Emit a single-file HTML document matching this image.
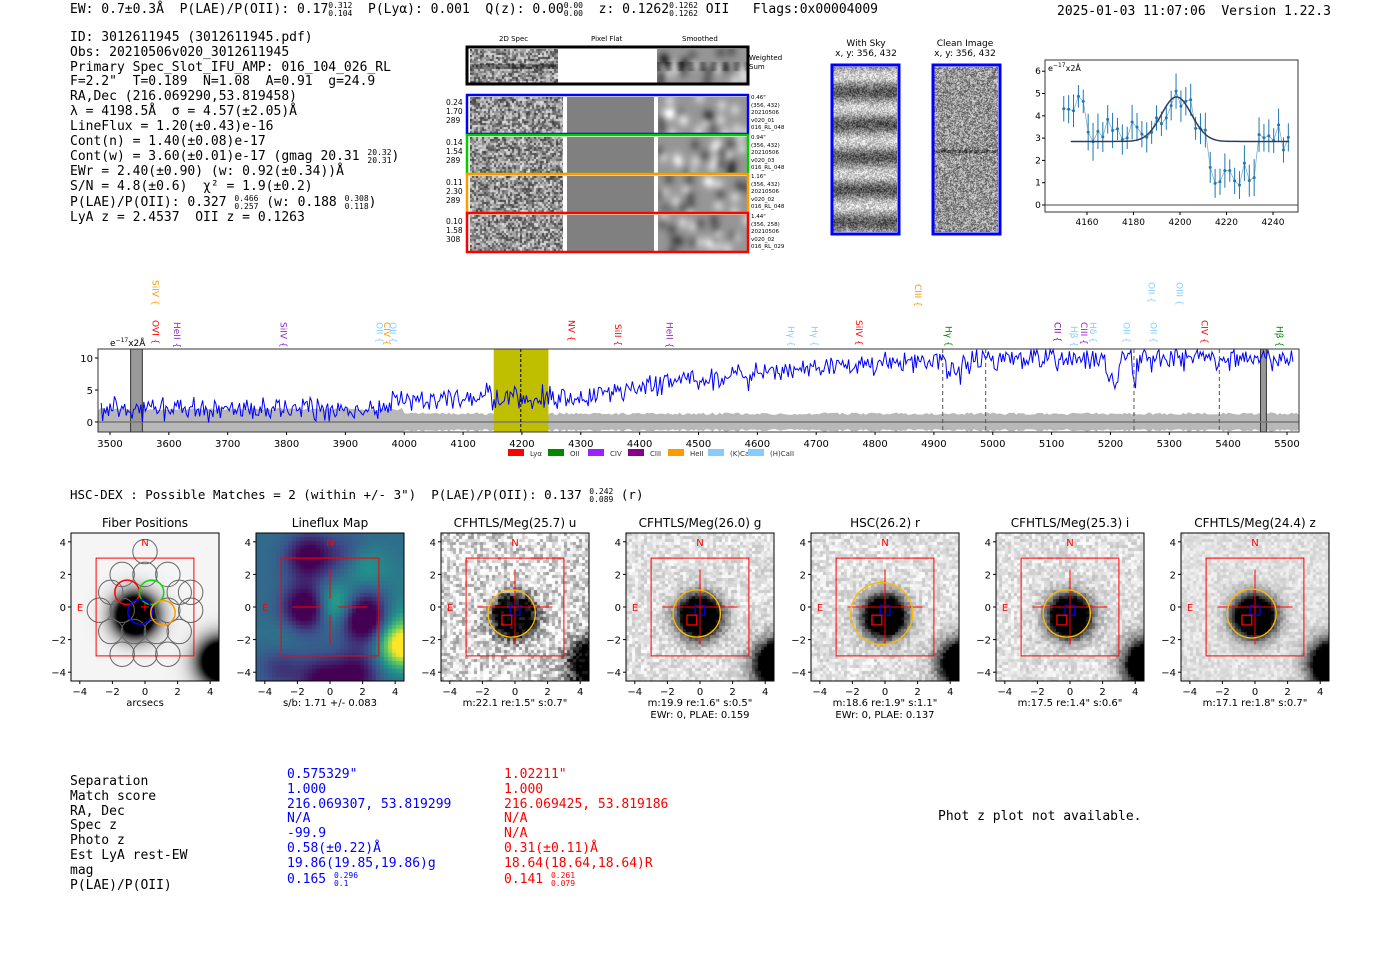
<!DOCTYPE html>
<html><head><meta charset="utf-8">
<style>
body{margin:0;background:#fff;width:1400px;height:953px;overflow:hidden;position:relative;font-family:"DejaVu Sans","Liberation Sans",sans-serif;}
.t{position:absolute;white-space:nowrap;}
.m{font-family:"DejaVu Sans Mono","Liberation Mono",monospace;font-size:13px;line-height:14.8px;white-space:pre;}
.f{font-size:8px;display:inline-block;line-height:8px;vertical-align:-3px;white-space:pre}
canvas{position:absolute}
</style></head><body>
<div id="cv"></div>
<div class="t m" style="left:70px;top:2px">EW: 0.7±0.3Å  P(LAE)/P(OII): 0.17<span class="f">0.312
0.104</span>  P(Lyα): 0.001  Q(z): 0.00<span class="f">0.00
0.00</span>  z: 0.1262<span class="f">0.1262
0.1262</span> OII   Flags:0x00004009</div>
<div class="t m" style="left:1057px;top:5px">2025-01-03 11:07:06  Version 1.22.3</div>
<div class="t m" style="left:70px;top:31px">ID: 3012611945 (3012611945.pdf)
Obs: 20210506v020_3012611945
Primary Spec_Slot_IFU_AMP: 016_104_026_RL
F=2.2"  T=0.189  N=1.08  A=0.91  g=24.9
RA,Dec (216.069290,53.819458)
λ = 4198.5Å  σ = 4.57(±2.05)Å
LineFlux = 1.20(±0.43)e-16
Cont(n) = 1.40(±0.08)e-17
Cont(w) = 3.60(±0.01)e-17 (gmag 20.31 <span class="f">20.32
20.31</span>)
EWr = 2.40(±0.90) (w: 0.92(±0.34))Å
S/N = 4.8(±0.6)  χ² = 1.9(±0.2)
P(LAE)/P(OII): 0.327 <span class="f">0.466
0.257</span> (w: 0.188 <span class="f">0.308
0.118</span>)
LyA z = 2.4537  OII z = 0.1263</div>

<div class="t" style="left:499px;top:35px;font-size:7px">2D Spec</div>
<div class="t" style="left:591px;top:35px;font-size:7px">Pixel Flat</div>
<div class="t" style="left:682px;top:35px;font-size:7px">Smoothed</div>
<div class="t" style="left:749px;top:54px;font-size:7px;line-height:9px">Weighted<br>Sum</div>
<div class="t" style="left:446px;top:98px;font-size:7.5px;line-height:9px">0.24<br>1.70<br>289</div>
<div class="t" style="left:446px;top:138px;font-size:7.5px;line-height:9px">0.14<br>1.54<br>289</div>
<div class="t" style="left:446px;top:178px;font-size:7.5px;line-height:9px">0.11<br>2.30<br>289</div>
<div class="t" style="left:446px;top:217px;font-size:7.5px;line-height:9px">0.10<br>1.58<br>308</div>
<div class="t" style="left:751px;top:95px;font-size:5.5px;line-height:7.5px">0.46"<br>(356, 432)<br>20210506<br>v020_01<br>016_RL_048</div>
<div class="t" style="left:751px;top:135px;font-size:5.5px;line-height:7.5px">0.94"<br>(356, 432)<br>20210506<br>v020_03<br>016_RL_048</div>
<div class="t" style="left:751px;top:174px;font-size:5.5px;line-height:7.5px">1.16"<br>(356, 432)<br>20210506<br>v020_02<br>016_RL_048</div>
<div class="t" style="left:751px;top:214px;font-size:5.5px;line-height:7.5px">1.44"<br>(356, 258)<br>20210506<br>v020_02<br>016_RL_029</div>
<div class="t" style="left:831px;top:39px;font-size:9px;line-height:10px;text-align:center;width:70px">With Sky<br>x, y: 356, 432</div>
<div class="t" style="left:930px;top:39px;font-size:9px;line-height:10px;text-align:center;width:70px">Clean Image<br>x, y: 356, 432</div>

<div class="t" style="left:70px;top:487px;font-size:12.5px;font-family:'DejaVu Sans Mono','Liberation Mono',monospace;white-space:pre">HSC-DEX : Possible Matches = 2 (within +/- 3")  P(LAE)/P(OII): 0.137 <span class="f">0.242
0.089</span> (r)</div>

<div class="t m" style="left:70px;top:775px">Separation
Match score
RA, Dec
Spec z
Photo z
Est LyA rest-EW
mag
P(LAE)/P(OII)</div>
<div class="t m" style="left:287px;top:768px;color:#00f">0.575329"
1.000
216.069307, 53.819299
N/A
-99.9
0.58(±0.22)Å
19.86(19.85,19.86)g
0.165 <span class="f">0.296
0.1</span></div>
<div class="t m" style="left:504px;top:768px;color:#f00">1.02211"
1.000
216.069425, 53.819186
N/A
N/A
0.31(±0.11)Å
18.64(18.64,18.64)R
0.141 <span class="f">0.261
0.079</span></div>
<div class="t m" style="left:938px;top:810px">Phot z plot not available.</div>

<svg id="s" width="1400" height="953" style="position:absolute;left:0;top:0"></svg>
<script>
let seed=7;function R(){seed=(seed*16807)%2147483647;return seed/2147483647;}
function G(){return (R()+R()+R()-1.5)*1.4;}
const cv=document.getElementById('cv');
function canv(x,y,w,h,f){const c=document.createElement('canvas');c.width=w;c.height=h;c.style.left=x+'px';c.style.top=y+'px';cv.appendChild(c);const g=c.getContext('2d');const im=g.createImageData(w,h);for(let j=0;j<h;j++)for(let i=0;i<w;i++){const v=f(i,j,w,h);const k=(j*w+i)*4;const a=Array.isArray(v)?v:[v,v,v];im.data[k]=a[0];im.data[k+1]=a[1];im.data[k+2]=a[2];im.data[k+3]=255;}g.putImageData(im,0,0);}
function cl(v){return Math.max(0,Math.min(255,v));}
function noiseBlock(x,y,w,h,b,band){const cells=[];const cw=Math.ceil(w/b),ch=Math.ceil(h/b);for(let i=0;i<cw*ch;i++)cells.push(R());canv(x,y,w,h,(i,j)=>{let v=cells[Math.floor(j/b)*cw+Math.floor(i/b)];v=60+v*170;if(band&&Math.abs(j-h/2)<3)v*=0.6;return cl(v);});}
function smoothBlock(x,y,w,h,dark){const n=[];for(let i=0;i<22;i++)n.push([R()*w,R()*h,R()>0.5?1:-1]);canv(x,y,w,h,(i,j)=>{let v=150;for(const p of n){const d=((i-p[0])**2)/8+((j-p[1])**2)/10;v+=p[2]*45*Math.exp(-d/4);}if(dark&&Math.abs(j-h/2)<5)v-=50*Math.cos((i/w)*25)**2;return cl(v);});}
noiseBlock(470,49,88,34,2,true);smoothBlock(657,49,90,34,true);
const rows=[[95,'#00f'],[135,'#0c0'],[174,'#f90'],[213,'#f00']];
for(const r of rows){noiseBlock(470,r[0]+2,93,36,2,false);canv(567,r[0]+2,87,36,()=>128);smoothBlock(658,r[0]+2,89,36,false);}
canv(833,67,64,165,(i,j)=>cl(150+60*Math.sin(j/5.2)+(R()-0.5)*120));
canv(934,67,64,165,(i,j)=>cl(150+(R()-0.5)*170-(Math.abs(j-84)<2?60:0)));
const px=[71,256,441,626,811,996,1181],py=533,W=148;
function star(i,j,cx,cy,r){return Math.exp(-(((i-cx)**2+(j-cy)**2)/(r*r)));}
canv(px[0],py,W,W,(i,j)=>{let v=245-255*Math.min(1,2.2*star(i,j,64,82,20))-255*Math.min(1,2*star(i,j,150,128,22));return cl(v);});
function vir(t){t=Math.max(0,Math.min(1,t));const s=[[68,1,84],[59,82,139],[33,145,140],[94,201,98],[253,231,37]];const k=t*4,a=Math.floor(Math.min(k,3.999)),f=k-a;return [0,1,2].map(c=>s[a][c]+(s[a+1][c]-s[a][c])*f);}
const blobs=[];for(let i=0;i<14;i++)blobs.push([R()*W,R()*W,(R()-0.5)*0.8]);blobs.push([74,70,0.4],[145,110,0.8],[105,85,-0.5],[50,20,-0.4]);
canv(px[1],py,W,W,(i,j)=>{const a=Math.floor(i/4)*4,b=Math.floor(j/4)*4;let v=0.35;for(const bb of blobs)v+=bb[2]*Math.exp(-((a-bb[0])**2+(b-bb[1])**2)/500);return vir(v);});
for(let k=2;k<7;k++){const nz=[150,60,60,60,40][k-2];const cells={};canv(px[k],py,W,W,(i,j)=>{const a=Math.floor(i/3),b=Math.floor(j/3);const key=a*100+b;if(cells[key]===undefined)cells[key]=R();let v=225-(cells[key]-0.5)*nz-255*Math.min(1,2.2*star(a*3,b*3,72,82,19))-255*Math.min(1,2.2*star(a*3,b*3,152,130,22));return cl(v);});}
const S=document.getElementById('s');let h='';
function L(x1,y1,x2,y2,c,w,d){h+=`<line x1="${x1}" y1="${y1}" x2="${x2}" y2="${y2}" stroke="${c}" stroke-width="${w||1}" ${d?'stroke-dasharray="'+d+'"':''}/>`;}
function T(x,y,s,fs,c,a,rot){h+=`<text x="${x}" y="${y}" font-size="${fs}" fill="${c||'#000'}" text-anchor="${a||'middle'}" ${rot?`transform="rotate(${rot} ${x} ${y})"`:''} font-family="DejaVu Sans, Liberation Sans, sans-serif">${s}</text>`;}
function Rc(x,y,w,hh,c,sw,f){h+=`<rect x="${x}" y="${y}" width="${w}" height="${hh}" fill="${f||'none'}" stroke="${c}" stroke-width="${sw||1}"/>`;}
Rc(467,47,281,37,'#000',3);
for(const r of rows)Rc(467,r[0],281,39,r[1],2.5);
Rc(832,65,67,169,'#00f',3);Rc(933,65,67,169,'#00f',3);
const bx=1045,by=60,bw=253,bh=152;Rc(bx,by,bw,bh,'#333');
const X=l=>1087+(l-4160)*2.325,Y=v=>205-v*22.3;
L(bx,Y(0),bx+bw,Y(0),'#444',1);
for(const t of [4160,4180,4200,4220,4240]){L(X(t),by+bh,X(t),by+bh+3,'#000');T(X(t),by+bh+13,t,9);}
for(let v=0;v<=6;v++){L(bx-3,Y(v),bx,Y(v),'#000');T(bx-7,Y(v)+3,v,9);}
T(bx+3,by+11,'e<tspan font-size="6" dy="-4">−17</tspan><tspan dy="4">x2Å</tspan>',8,'#000','start');
let pts=[];for(let l=4150;l<=4247;l+=2.1){let v=l<4160?4.3:l<4190?3.3:l<4212?3.2:l<4232?1.3:3.0;v+=1.6*Math.exp(-((l-4198)**2)/50);v+=G()*0.45;pts.push([X(l),Y(v)]);const e=11+R()*8;L(X(l),Y(v)-e,X(l),Y(v)+e,'#1f77b4',1);}
h+=`<polyline points="${pts.map(p=>p.join(',')).join(' ')}" fill="none" stroke="#1f77b4" stroke-width="0.8" opacity="0.6"/>`;
for(const p of pts)h+=`<circle cx="${p[0]}" cy="${p[1]}" r="1.5" fill="#1f77b4"/>`;
let g=[];for(let l=4153;l<=4247;l++)g.push([X(l),Y(2.85+2.0*Math.exp(-((l-4198.5)**2)/(2*4.57*4.57*2)))]);
h+=`<polyline points="${g.map(p=>p.join(',')).join(' ')}" fill="none" stroke="#2a3f5f" stroke-width="1.5"/>`;
const sx0=98,sx1=1299,sy0=349,sy1=432;const SX=l=>110+(l-3500)*0.5885,SY=v=>422-v*6.4;
let up=[],dn=[];for(let l=3480;l<=5520;l+=4){const e=(l<4000?1.8:1.1)+R()*0.4;up.push([SX(l),SY(e)]);dn.push([SX(l),Math.min(sy1,SY(-e))]);}
h+=`<polygon points="${up.concat(dn.reverse()).map(p=>p.join(',')).join(' ')}" fill="#b8b8b8"/>`;
h+=`<rect x="${SX(4152)}" y="${sy0}" width="${SX(4245)-SX(4152)}" height="${sy1-sy0}" fill="#bfbf00"/>`;
h+=`<rect x="${SX(3535)}" y="${sy0}" width="${SX(3555)-SX(3535)}" height="${sy1-sy0}" fill="#999" stroke="#333"/>`;
h+=`<rect x="${SX(5455)}" y="${sy0}" width="${SX(5465)-SX(5455)}" height="${sy1-sy0}" fill="#999" stroke="#333"/>`;
L(sx0,SY(0),sx1,SY(0),'#777',1.5);
let sp=[];for(let l=3485;l<=5510;l+=2.5){let base=l<3980?2.0:l<4250?3.8:l<4500?3.5+(l-4250)/250*3:l<4700?6.5+(l-4500)/200*2.2:l<5000?8.5+(l-4700)/300*1.8:10;if(l>4920&&l<4950)base-=2;if(l>5190&&l<5215)base-=3;if(l>5237&&l<5245)base-=3;let v=base+G()*1.3;v=Math.min(v,11.3);sp.push([SX(l).toFixed(1),SY(v).toFixed(1)]);}
h+=`<polyline points="${sp.map(p=>p.join(',')).join(' ')}" fill="none" stroke="#00f" stroke-width="1"/>`;
L(SX(4198),sy0,SX(4198),sy1,'#000',1,'3,2');
for(const l of [4915,4988,5240,5385])L(SX(l),sy0,SX(l),sy1,'#555',1,'4,3');
h+=`<rect x="${sx0}" y="${sy0}" width="${sx1-sx0}" height="${sy1-sy0}" fill="none" stroke="#333"/>`;
for(let t=3500;t<=5500;t+=100){L(SX(t),sy1,SX(t),sy1+3,'#000');T(SX(t),sy1+15,t,10);}
for(const v of [0,5,10]){L(sx0-3,SY(v),sx0,SY(v),'#000');T(sx0-5,SY(v)+4,v,10,'#000','end');}
T(110,346,'e<tspan font-size="6" dy="-4">−17</tspan><tspan dy="4">x2Å</tspan>',9,'#000','start');
const lines=[[3572,'SiIV','#f90',280],[3572,'OVI','#f00',320],[3609,'HeII','#92c',322],[3790,'SiIV','#92c',322],[3953,'OII','#8cf',322],[3966,'CIV','#f90',322],[3976,'OII','#8cf',322],[4279,'NV','#f00',320],[4358,'SiII','#f00',324],[4446,'HeII','#92c',322],[4652,'Hγ','#8cf',326],[4692,'Hγ','#8cf',326],[4768,'SiIV','#f00',320],[4868,'CIII','#f90',284],[4920,'Hγ','#080',326],[5105,'CII','#80a',322],[5133,'Hβ','#8cf',326],[5150,'CIII','#92c',322],[5165,'Hδ','#8cf',322],[5222,'OII','#8cf',322],[5268,'OII','#8cf',322],[5265,'OII','#8cf',282],[5312,'OIII','#8cf',282],[5355,'CIV','#f00',320],[5482,'Hβ','#080',326]];
for(const a of lines){const x=SX(a[0]);T(x,a[3],a[1]+' {',9,a[2],'start',90);}
const leg=[['Lyα','#f00'],['OII','#080'],['CIV','#92f'],['CIII','#808'],['HeII','#f90'],['(K)CaII','#8cf'],['(H)CaII','#8cf']];
leg.forEach((a,i)=>{const x=508+i*40;h+=`<rect x="${x}" y="449" width="16" height="7" fill="${a[1]}"/>`;T(x+22,456,a[0],7,'#333','start');});
const titles=['Fiber Positions','Lineflux Map','CFHTLS/Meg(25.7) u','CFHTLS/Meg(26.0) g','HSC(26.2) r','CFHTLS/Meg(25.3) i','CFHTLS/Meg(24.4) z'];
const subs=[['arcsecs'],['s/b: 1.71 +/- 0.083'],['m:22.1  re:1.5"  s:0.7"'],['m:19.9  re:1.6"  s:0.5"','EWr: 0, PLAE: 0.159'],['m:18.6  re:1.9"  s:1.1"','EWr: 0, PLAE: 0.137'],['m:17.5  re:1.4"  s:0.6"'],['m:17.1  re:1.8"  s:0.7"']];
px.forEach((x0,k)=>{const cx=x0+74,cy=py+74,s=16.3;
 if(k==0){const f=[[0,3.4],[-1.4,2],[0,2],[1.4,2],[-2.1,0.9],[2.1,0.9],[-2.8,-0.2],[-1.4,-0.2],[1.4,-0.2],[2.8,-0.2],[-2.1,-1.5],[-0.7,-1.5],[0.7,-1.5],[2.1,-1.5],[-1.4,-2.9],[0,-2.9],[1.4,-2.9],[2.8,0.9]];for(const p of f)h+=`<circle cx="${cx+p[0]*s}" cy="${cy-p[1]*s}" r="${0.75*s}" fill="none" stroke="#666" stroke-width="1"/>`;
 const c=[[-1.1,0.9,'#f00'],[0.4,0.9,'#0d0'],[-0.3,-0.3,'#00f'],[1.1,-0.35,'#f90']];for(const p of c)h+=`<circle cx="${cx+p[0]*s}" cy="${cy-p[1]*s}" r="${0.75*s}" fill="none" stroke="${p[2]}" stroke-width="1.5"/>`;T(cx,cy+4,'+',13,'#f00');}
 Rc(cx-3*s,cy-3*s,6*s,6*s,'#f00',1);
 if(k>=1){L(cx-2.3*s,cy,cx-0.5*s,cy,'#f00');L(cx+0.5*s,cy,cx+2.3*s,cy,'#f00');L(cx,cy-2.3*s,cx,cy-0.5*s,'#f00');L(cx,cy+0.5*s,cx,cy+2.3*s,'#f00');}
 if(k>=2){L(cx-0.5*s,cy,cx+0.5*s,cy,'#f00');L(cx,cy-0.5*s,cx,cy+0.5*s,'#f00');const r=[1.45,1.45,1.9,1.45,1.5][k-2];h+=`<circle cx="${cx-0.2*s}" cy="${cy+0.4*s}" r="${r*s}" fill="none" stroke="#fb0" stroke-width="1.3"/>`;Rc(cx-0.3*s,cy-0.1*s,0.6*s,0.6*s,'#00f',1.3);Rc(cx-0.8*s,cy+0.5*s,0.6*s,0.6*s,'#f00',1.3);}
 T(cx,py-6,titles[k],12);T(cx,py+13,'N',10,'#f00');T(x0+9,cy+4,'E',10,'#f00');
 Rc(x0,py,W,W,'#000',1);
 for(const v of [-4,-2,0,2,4]){const tx=cx+v*s;L(tx,py+W,tx,py+W+3,'#000');T(tx,py+W+14,v<0?'−'+(-v):v,10);L(x0-3,cy-v*s,x0,cy-v*s,'#000');T(x0-5,cy-v*s+4,v<0?'−'+(-v):v,10,'#000','end');}
 subs[k].forEach((t,i)=>T(cx,py+W+25+i*12,t,10));
});
S.innerHTML=h;
</script>
</body></html>
